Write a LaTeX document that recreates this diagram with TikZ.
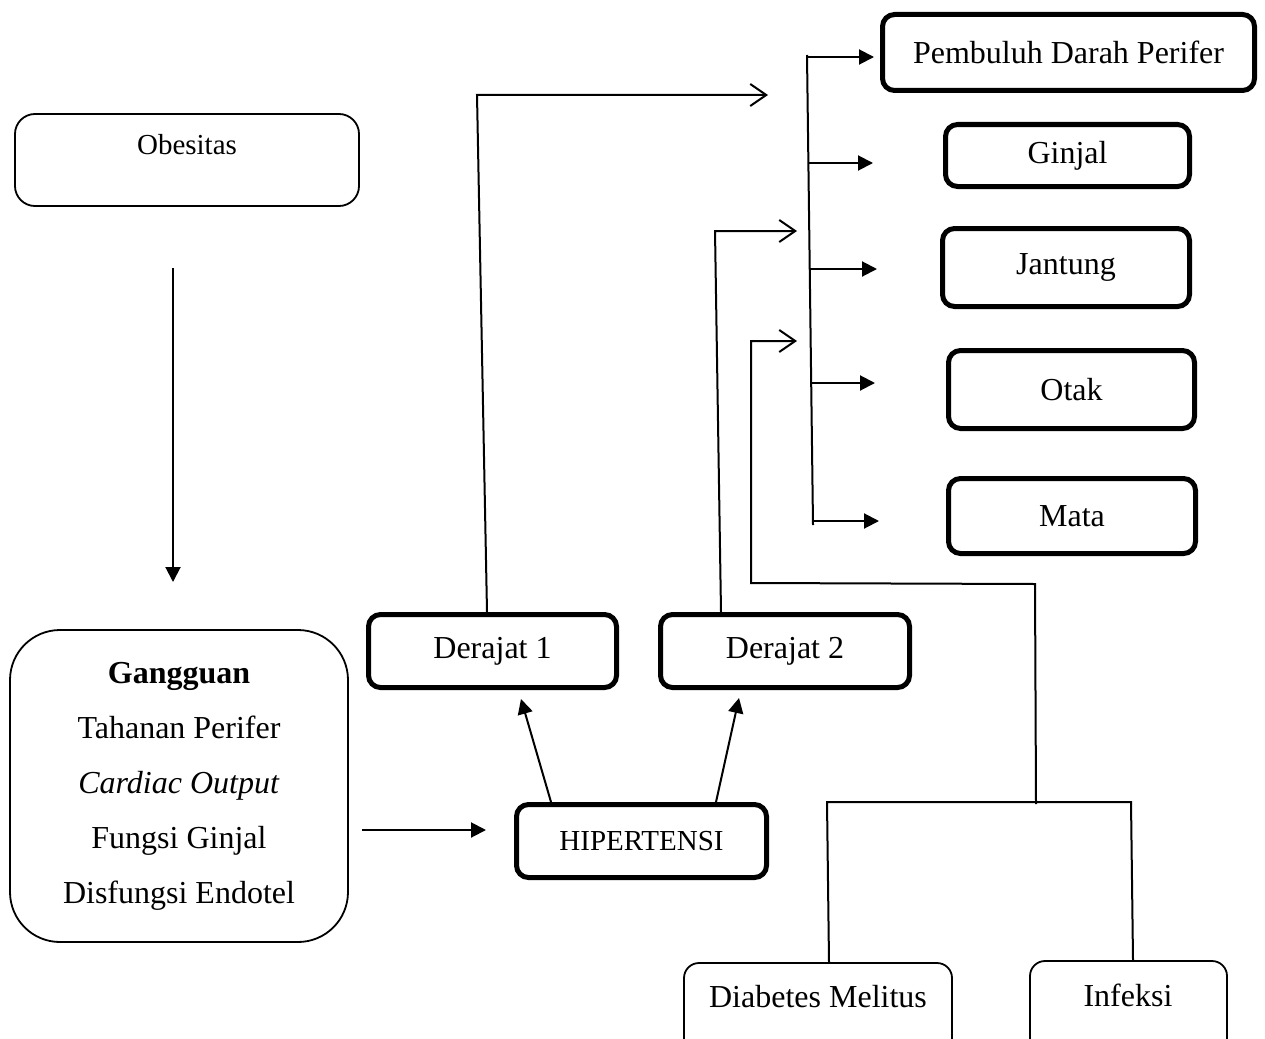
\documentclass[tikz,border=0pt]{standalone}
\usepackage{fontspec}
\setmainfont{Liberation Serif}
\usetikzlibrary{arrows.meta}
\begin{document}
\begin{tikzpicture}[x=1pt,y=-1pt,
  thickbox/.style={draw, line width=5pt, rounded corners=12pt, inner sep=0pt, font=\fontsize{32}{38}\selectfont},
  thinbox/.style={draw, line width=1.8pt, rounded corners=20pt, inner sep=0pt, font=\fontsize{32}{38}\selectfont},
  lbl/.style={inner sep=0pt, font=\fontsize{32}{38}\selectfont},
  conn/.style={line width=2pt},
  fa/.style={conn, -{Triangle[length=15pt,width=15pt]}},
  oa/.style={conn, -{Straight Barb[length=16pt,width=22pt]}}]
\useasboundingbox (0,0) rectangle (1265,1038);
\clip (0,0) rectangle (1265,1038);

% left column
\node[thinbox, minimum width=344pt, minimum height=92pt] (obes) at (187,160) {};
\node[lbl, font=\fontsize{29}{34}\selectfont] (obest) at (187,145) {Obesitas};
\node[thinbox, rounded corners=50pt, minimum width=338pt, minimum height=312pt, align=center,
      font=\fontsize{32}{55}\selectfont] (gang) at (179,786)
  {\textbf{Gangguan}\\Tahanan Perifer\\\textit{Cardiac Output}\\Fungsi Ginjal\\Disfungsi Endotel};

% middle
\node[thickbox, minimum width=250pt, minimum height=73pt, font=\fontsize{29}{34}\selectfont] (hip) at (641.5,841) {HIPERTENSI};
\node[thickbox, minimum width=248pt, minimum height=73pt] (der1) at (492.5,651) {Derajat 1};
\node[thickbox, minimum width=249pt, minimum height=73pt] (der2) at (785,651) {Derajat 2};

% right column
\node[thickbox, minimum width=372pt, minimum height=76pt] (pemb) at (1068.5,52.5) {Pembuluh Darah Perifer};
\node[thickbox, minimum width=244pt, minimum height=62pt] (ginj) at (1067.5,155.5) {Ginjal};
\node[thickbox, minimum width=247pt, minimum height=78pt] (jant) at (1066,267.5) {Jantung};
\node[thickbox, minimum width=246pt, minimum height=78pt] (otak) at (1071.5,389.5) {Otak};
\node[thickbox, minimum width=247pt, minimum height=75pt] (mata) at (1072,516) {Mata};

% bottom
\node[thinbox, rounded corners=15pt, minimum width=268pt, minimum height=100pt] (dm) at (818,1013) {};
\node[lbl] (dmt) at (818,997) {Diabetes Melitus};
\node[thinbox, rounded corners=15pt, minimum width=197pt, minimum height=100pt] (inf) at (1128.5,1011) {};
\node[lbl] (inft) at (1128,995) {Infeksi};

% coordinates
\coordinate (o1) at (173,268);
\coordinate (o2) at (173,582);
\coordinate (g1) at (362,830);
\coordinate (g2) at (486,830);
\coordinate (h1) at (521,699);
\coordinate (h2) at (739,698);
\coordinate (c1) at (477,95);
\coordinate (e1) at (768,95);
\coordinate (c2) at (715,231);
\coordinate (e2) at (797,231);
\coordinate (t1) at (827,802);
\coordinate (t2) at (1131,802);
\coordinate (t3) at (1036,804);
\coordinate (t4) at (1035,584);
\coordinate (t5) at (751,583);
\coordinate (t6) at (751,341);
\coordinate (e3) at (797,341);
\coordinate (b0) at (807,55);
\coordinate (b5) at (813,525);
\coordinate (b1) at (807.1,57);
\coordinate (b2) at (808.4,163);
\coordinate (b3) at (809.7,269);
\coordinate (b4) at (811.2,383);
\coordinate (b6) at (812.9,521);
\coordinate (r2) at (873,163);
\coordinate (r3) at (877,269);
\coordinate (r4) at (875,383);
\coordinate (r5) at (879,521);

% connectors
\draw[fa] (o1) -- (o2);
\draw[fa] (g1) -- (g2);
\draw[fa] ([xshift=-90.5pt]hip.north) -- (h1);
\draw[fa] ([xshift=74.5pt]hip.north) -- (h2);
\draw[oa] ([xshift=-5.5pt]der1.north) -- (c1) -- (e1);
\draw[oa] ([xshift=-64pt]der2.north) -- (c2) -- (e2);
\draw[conn] ([xshift=11pt]dm.north) -- (t1) -- (t2) -- ([xshift=4.5pt]inf.north);
\draw[oa] (t3) -- (t4) -- (t5) -- (t6) -- (e3);
\draw[conn] (b0) -- (b5);
\draw[fa] (b1) -- ([xshift=-6pt,yshift=-4.5pt]pemb.west);
\draw[fa] (b2) -- (r2);
\draw[fa] (b3) -- (r3);
\draw[fa] (b4) -- (r4);
\draw[fa] (b6) -- (r5);
\end{tikzpicture}
\end{document}
